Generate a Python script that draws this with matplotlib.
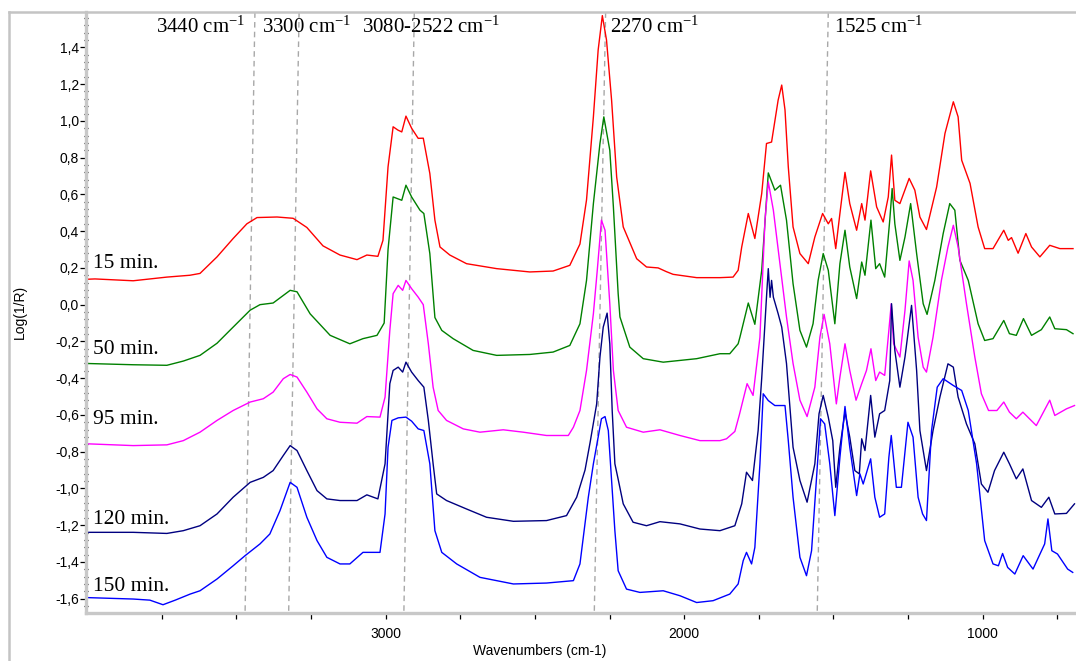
import matplotlib
matplotlib.use("Agg")
import matplotlib.pyplot as plt
from matplotlib.lines import Line2D
from matplotlib.ticker import FixedLocator, MultipleLocator, FuncFormatter

# spectra: wavenumber (cm-1) and Log(1/R)
wn_15 = [4004, 3974, 3846, 3733, 3656, 3622, 3565, 3511, 3465, 3431, 3364, 3310, 3264, 3210,
         3153, 3096, 3063, 3026, 3009, 2992, 2975, 2959, 2946, 2932, 2913, 2891, 2874, 2852,
         2835, 2818, 2785, 2729, 2628, 2517, 2439, 2383, 2349, 2327, 2304, 2288, 2274, 2260,
         2243, 2226, 2204, 2159, 2126, 2087, 2060, 2037, 1958, 1880, 1836, 1819, 1807, 1785,
         1763, 1740, 1724, 1707, 1685, 1673, 1662, 1651, 1635, 1612, 1584, 1562, 1536, 1517,
         1506, 1492, 1478, 1461, 1445, 1422, 1405, 1394, 1375, 1355, 1333, 1316, 1305, 1294,
         1277, 1246, 1227, 1210, 1188, 1154, 1126, 1098, 1082, 1070, 1042, 1015, 993, 965,
         929, 914, 903, 881, 855, 836, 808, 775, 741, 697]
val_15 = [0.138, 0.14, 0.13, 0.15, 0.16, 0.17, 0.26, 0.36, 0.44, 0.474, 0.477, 0.47, 0.42, 0.32,
          0.27, 0.245, 0.27, 0.263, 0.35, 0.75, 0.968, 0.95, 0.94, 1.026, 0.96, 0.905, 0.906, 0.714,
          0.46, 0.314, 0.27, 0.223, 0.196, 0.178, 0.183, 0.214, 0.33, 0.57, 1.022, 1.386, 1.573, 1.44,
          1.113, 0.695, 0.423, 0.25, 0.205, 0.2, 0.18, 0.165, 0.147, 0.147, 0.15, 0.187, 0.314, 0.496,
          0.36, 0.605, 0.877, 0.885, 1.113, 1.195, 1.06, 0.75, 0.423, 0.278, 0.223, 0.368, 0.496, 0.44,
          0.469, 0.305, 0.496, 0.72, 0.55, 0.405, 0.55, 0.46, 0.728, 0.532, 0.45, 0.586, 0.814, 0.568,
          0.55, 0.687, 0.623, 0.477, 0.409, 0.64, 0.932, 1.104, 1.022, 0.786, 0.66, 0.423, 0.305, 0.305,
          0.405, 0.35, 0.365, 0.28, 0.387, 0.314, 0.26, 0.323, 0.305, 0.305]

wn_50 = [4004, 3846, 3733, 3678, 3622, 3565, 3522, 3454, 3421, 3377, 3320, 3297, 3253, 3186,
         3153, 3120, 3076, 3029, 3005, 2992, 2975, 2946, 2932, 2913, 2885, 2872, 2852, 2835,
         2812, 2774, 2707, 2628, 2517, 2439, 2383, 2349, 2327, 2304, 2282, 2269, 2249, 2237,
         2221, 2215, 2182, 2137, 2070, 1958, 1880, 1847, 1819, 1813, 1785, 1763, 1740, 1718,
         1696, 1677, 1657, 1635, 1612, 1590, 1568, 1551, 1534, 1517, 1495, 1478, 1461, 1445,
         1422, 1405, 1394, 1374, 1358, 1345, 1328, 1311, 1303, 1294, 1277, 1260, 1241, 1221,
         1199, 1186, 1160, 1132, 1110, 1093, 1076, 1048, 1015, 993, 965, 929, 910, 887,
         863, 836, 803, 775, 758, 719, 697]
val_50 = [-0.32, -0.327, -0.33, -0.307, -0.276, -0.21, -0.14, -0.03, 0.0, 0.009, 0.078, 0.07, -0.05, -0.167,
          -0.19, -0.213, -0.185, -0.167, -0.1, 0.3, 0.586, 0.568, 0.65, 0.586, 0.514, 0.496, 0.278, -0.07,
          -0.14, -0.185, -0.249, -0.276, -0.271, -0.258, -0.222, -0.104, 0.132, 0.55, 0.877, 1.022, 0.84, 0.532,
          0.06, -0.067, -0.231, -0.294, -0.313, -0.294, -0.267, -0.267, -0.213, -0.177, 0.009, -0.107, 0.187, 0.717,
          0.623, 0.65, 0.46, 0.114, -0.14, -0.231, -0.104, 0.132, 0.278, 0.187, -0.104, 0.223, 0.405, 0.205,
          0.033, 0.232, 0.16, 0.46, 0.196, 0.223, 0.15, 0.46, 0.632, 0.44, 0.241, 0.368, 0.55, 0.278,
          0.005, -0.053, 0.132, 0.387, 0.55, 0.514, 0.241, 0.132, -0.104, -0.195, -0.185, -0.086, -0.158, -0.167,
          -0.076, -0.167, -0.136, -0.067, -0.131, -0.136, -0.158]

wn_95 = [4004, 3846, 3733, 3678, 3622, 3565, 3511, 3454, 3410, 3377, 3343, 3320, 3297, 3264,
         3230, 3197, 3153, 3096, 3063, 3019, 3002, 2986, 2975, 2958, 2943, 2932, 2913, 2891,
         2874, 2857, 2841, 2824, 2796, 2740, 2684, 2606, 2539, 2461, 2388, 2371, 2349, 2327,
         2304, 2291, 2277, 2265, 2249, 2237, 2221, 2193, 2137, 2081, 2014, 1947, 1880, 1858,
         1830, 1815, 1789, 1769, 1746, 1729, 1718, 1701, 1679, 1657, 1635, 1612, 1588, 1562,
         1545, 1531, 1512, 1490, 1478, 1461, 1445, 1424, 1405, 1389, 1374, 1358, 1345, 1328,
         1314, 1306, 1298, 1277, 1260, 1246, 1233, 1216, 1199, 1188, 1166, 1138, 1116, 1098,
         1082, 1054, 1026, 1004, 980, 952, 929, 910, 887, 865, 820, 775, 758, 719, 692]
val_95 = [-0.757, -0.767, -0.763, -0.74, -0.694, -0.63, -0.576, -0.53, -0.512, -0.476, -0.403, -0.38, -0.394, -0.476,
          -0.567, -0.621, -0.64, -0.645, -0.609, -0.612, -0.503, -0.14, 0.06, 0.105, 0.078, 0.132, 0.087, 0.041,
          0.0, -0.213, -0.449, -0.576, -0.63, -0.676, -0.694, -0.681, -0.694, -0.712, -0.712, -0.667, -0.576, -0.358,
          -0.049, 0.187, 0.46, 0.405, 0.005, -0.358, -0.576, -0.667, -0.694, -0.681, -0.712, -0.74, -0.74, -0.73,
          -0.69, -0.6, -0.43, -0.494, -0.177, 0.46, 0.668, 0.514, 0.223, -0.067, -0.32, -0.52, -0.609, -0.449,
          -0.177, -0.053, -0.213, -0.54, -0.394, -0.213, -0.358, -0.52, -0.43, -0.358, -0.24, -0.413, -0.367, -0.385,
          -0.14, 0.005, -0.213, -0.285, -0.031, 0.238, 0.132, -0.177, -0.34, -0.367, -0.177, 0.132, 0.314, 0.432,
          0.314, 0.005, -0.285, -0.485, -0.576, -0.576, -0.53, -0.585, -0.621, -0.585, -0.658, -0.52, -0.603, -0.567, -0.549]

wn_120 = [4004, 3846, 3733, 3678, 3622, 3565, 3511, 3454, 3410, 3377, 3343, 3320, 3297, 3264,
          3230, 3197, 3153, 3096, 3063, 3026, 3002, 2986, 2975, 2958, 2943, 2932, 2913, 2891,
          2872, 2857, 2841, 2829, 2796, 2729, 2662, 2572, 2461, 2394, 2360, 2332, 2315, 2293,
          2282, 2271, 2258, 2249, 2241, 2232, 2221, 2204, 2171, 2126, 2081, 2014, 1947, 1880,
          1830, 1807, 1791, 1771, 1752, 1740, 1724, 1718, 1712, 1707, 1701, 1685, 1673, 1657,
          1635, 1612, 1588, 1562, 1548, 1534, 1517, 1502, 1492, 1478, 1461, 1445, 1428, 1413,
          1405, 1394, 1375, 1361, 1345, 1328, 1311, 1305, 1294, 1277, 1260, 1238, 1221, 1210,
          1188, 1166, 1143, 1116, 1098, 1082, 1054, 1026, 1004, 982, 960, 929, 910, 887,
          865, 836, 803, 778, 758, 719, 692]
val_120 = [-1.239, -1.239, -1.245, -1.23, -1.203, -1.139, -1.048, -0.967, -0.94, -0.903, -0.821, -0.767, -0.794, -0.903,
           -1.012, -1.057, -1.066, -1.066, -1.035, -1.057, -0.866, -0.43, -0.358, -0.34, -0.367, -0.313, -0.367, -0.413,
           -0.449, -0.63, -0.866, -1.03, -1.066, -1.112, -1.157, -1.179, -1.175, -1.148, -1.048, -0.9, -0.75, -0.54,
           -0.285, -0.122, -0.046, -0.213, -0.576, -0.866, -0.95, -1.084, -1.184, -1.203, -1.181, -1.193, -1.221, -1.23,
           -1.203, -1.084, -0.912, -0.957, -0.685, -0.4, 0.041, 0.196, 0.04, 0.132, 0.041, -0.049, -0.122, -0.32,
           -0.776, -0.957, -1.075, -0.866, -0.594, -0.494, -0.612, -0.74, -0.994, -0.776, -0.585, -0.721, -0.903, -0.921,
           -0.73, -0.794, -0.494, -0.721, -0.594, -0.576, -0.413, 0.005, -0.249, -0.449, -0.285, -0.004, -0.358, -0.685,
           -0.903, -0.685, -0.503, -0.322, -0.34, -0.503, -0.649, -0.757, -0.976, -1.021, -0.903, -0.803, -0.866, -0.948,
           -0.894, -1.066, -1.103, -1.048, -1.139, -1.136, -1.084]

wn_150 = [4004, 3846, 3790, 3746, 3705, 3655, 3622, 3565, 3511, 3471, 3421, 3388, 3354, 3320,
          3297, 3264, 3230, 3197, 3153, 3120, 3076, 3042, 3019, 3002, 2992, 2979, 2958, 2932,
          2913, 2891, 2872, 2852, 2835, 2812, 2762, 2684, 2572, 2461, 2371, 2349, 2321, 2304,
          2288, 2277, 2265, 2254, 2243, 2232, 2221, 2193, 2148, 2070, 2014, 1958, 1903, 1847,
          1819, 1802, 1791, 1774, 1763, 1746, 1735, 1718, 1696, 1662, 1651, 1635, 1612, 1590,
          1573, 1557, 1543, 1529, 1512, 1495, 1478, 1461, 1445, 1422, 1411, 1400, 1375, 1361,
          1345, 1328, 1314, 1306, 1289, 1272, 1250, 1233, 1216, 1201, 1188, 1171, 1152, 1132,
          1098, 1070, 1048, 1020, 993, 965, 947, 933, 916, 892, 864, 831, 792, 781,
          768, 749, 715, 698]
val_150 = [-1.594, -1.602, -1.608, -1.633, -1.608, -1.575, -1.557, -1.493, -1.421, -1.366, -1.302, -1.248, -1.121, -0.967,
           -0.994, -1.157, -1.284, -1.375, -1.411, -1.411, -1.348, -1.348, -1.348, -1.139, -0.776, -0.63, -0.616, -0.612,
           -0.634, -0.676, -0.685, -0.866, -1.23, -1.348, -1.411, -1.484, -1.52, -1.515, -1.502, -1.411, -1.048, -0.866,
           -0.721, -0.621, -0.609, -0.685, -0.957, -1.23, -1.448, -1.548, -1.566, -1.557, -1.584, -1.621, -1.611, -1.575,
           -1.52, -1.393, -1.348, -1.411, -1.321, -0.866, -0.485, -0.522, -0.549, -0.549, -0.74, -1.048, -1.375, -1.475,
           -1.339, -0.957, -0.621, -0.649, -0.866, -1.148, -0.831, -0.554, -0.776, -1.039, -0.921, -0.976, -0.839, -1.048,
           -1.157, -1.139, -0.831, -0.712, -0.994, -0.994, -0.64, -0.721, -1.048, -1.139, -1.175, -0.685, -0.449, -0.403,
           -0.44, -0.467, -0.576, -0.866, -1.284, -1.411, -1.421, -1.354, -1.43, -1.466, -1.366, -1.439, -1.302, -1.166,
           -1.339, -1.357, -1.439, -1.457]

series_names = ["15 min.", "50 min.", "95 min.", "120 min.", "150 min."]
series_colors = ["#ff0000", "#008000", "#ff00ff", "#000080", "#0000ff"]
name_pos = [0.198, -0.271, -0.652, -1.192, -1.557]

# hand drawn marker lines (slightly slanted) and their labels
marker_top = [3438, 3290, 2904, 2263, 1517]
marker_bottom = [3471, 3325, 2939, 2301, 1554]
marker_text = ["3440 cm$^{-1}$", "3300 cm$^{-1}$", "3080-2522 cm$^{-1}$", "2270 cm$^{-1}$", "1525 cm$^{-1}$"]
marker_text_x = [3770, 3415, 3079, 2249, 1498]

x_major = [3000, 2000, 1000]
x_minor = [3750, 3500, 3250, 2750, 2500, 2250, 1750, 1500, 1250, 750]

X_LEFT, X_RIGHT = 4004, 687
Y_LOW, Y_HIGH = -1.678, 1.591
W, H = 1076, 661


def comma_fmt(v, pos):
    s = f"{v:.1f}".replace(".", ",")
    if s == "-0,0":
        s = "0,0"
    return s


def main():
    plt.rcParams["font.family"] = ["Liberation Sans", "DejaVu Sans"]
    plt.rcParams["mathtext.fontset"] = "custom"
    plt.rcParams["mathtext.rm"] = "Liberation Serif"
    plt.rcParams["mathtext.it"] = "Liberation Serif:italic"

    fig = plt.figure(figsize=(W / 100, H / 100), dpi=100)
    ax = fig.add_axes([86 / W, 1 - 613 / H, 1 - 86 / W, (613 - 12.3) / H])

    all_wn = [wn_15, wn_50, wn_95, wn_120, wn_150]
    all_val = [val_15, val_50, val_95, val_120, val_150]
    for wn, val, col in zip(all_wn, all_val, series_colors):
        ax.plot(wn, val, color=col, lw=1.0)

    for t, b in zip(marker_top, marker_bottom):
        ax.plot([t, b], [Y_HIGH, Y_LOW], color="#a8a8a8", lw=1.0, dashes=(4, 3), zorder=0.5)

    trans = ax.get_xaxis_transform()
    for txt, xx in zip(marker_text, marker_text_x):
        ax.text(xx, 0.9655, txt, transform=trans, fontsize=15, family="Liberation Serif",
                va="baseline", ha="left")

    for name, yy in zip(series_names, name_pos):
        ax.text(3982, yy, name, fontsize=15.5, family="Liberation Serif", va="baseline", ha="left")

    ax.set_xlim(X_LEFT, X_RIGHT)
    ax.set_ylim(Y_LOW, Y_HIGH)

    ax.xaxis.set_major_locator(FixedLocator(x_major))
    ax.xaxis.set_minor_locator(FixedLocator(x_minor))
    ax.yaxis.set_major_locator(MultipleLocator(0.2))
    ax.yaxis.set_minor_locator(MultipleLocator(0.04))
    ax.yaxis.set_major_formatter(FuncFormatter(comma_fmt))
    ax.xaxis.set_major_formatter(FuncFormatter(lambda v, p: f"{v:.0f}"))

    for side in ["top", "right"]:
        ax.spines[side].set_visible(False)
    for side in ["left", "bottom"]:
        ax.spines[side].set_color("#c8c8c8")
        ax.spines[side].set_linewidth(2.4)

    ax.tick_params(axis="y", which="major", direction="out", length=4, width=0.9, colors="black",
                   labelsize=10, pad=1)
    ax.tick_params(axis="y", which="minor", direction="inout", length=3, width=0.9, colors="black")
    ax.tick_params(axis="x", which="both", direction="out", length=4, width=0.9, colors="black",
                   labelsize=10, pad=6)

    fig.text(20 / W, 1 - 312 / H, "Log(1/R)", rotation=90, ha="center", va="center", fontsize=10)
    fig.text(540 / W, 1 - 651 / H, "Wavenumbers (cm-1)", ha="center", va="center", fontsize=10)

    # outer frame of the original window
    fig.add_artist(Line2D([9 / W, 9 / W], [0, 1 - 12 / H], transform=fig.transFigure,
                          color="#c4c4c4", lw=1.8))
    fig.add_artist(Line2D([9 / W, 1], [1 - 12 / H, 1 - 12 / H], transform=fig.transFigure,
                          color="#c4c4c4", lw=1.8))

    fig.savefig("out.png", dpi=100)


if __name__ == "__main__":
    main()
